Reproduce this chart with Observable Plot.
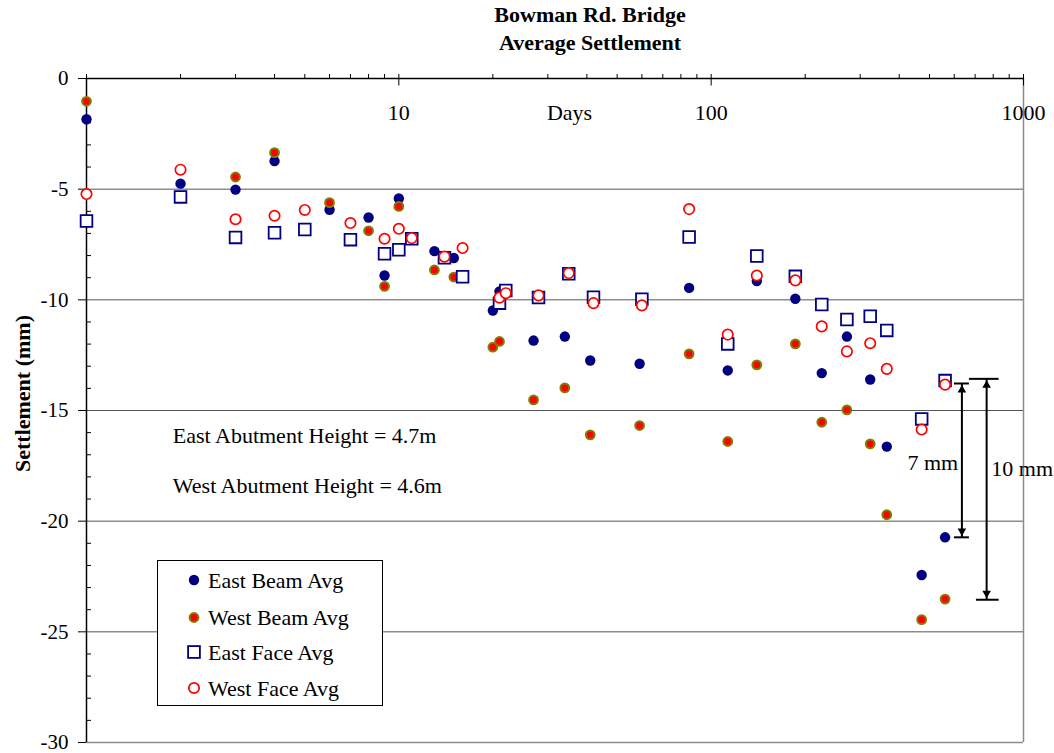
<!DOCTYPE html>
<html>
<head>
<meta charset="utf-8">
<script src="https://cdn.jsdelivr.net/npm/d3@7"></script>
<script src="https://cdn.jsdelivr.net/npm/@observablehq/plot@0.6"></script>
<style>
  body { margin: 0; background: #fff; font-family: "Liberation Serif", "Times New Roman", serif; }
  #wrap { position: relative; width: 1054px; height: 753px; overflow: hidden; background: #fff; }
  #title { position: absolute; left: 126px; top: 1px; width: 928px; text-align: center;
           font-weight: bold; font-size: 22px; line-height: 28px; color: #000; }
  #chart { position: absolute; left: 0; top: 56px; }
  #legend { position: absolute; left: 157px; top: 560px; }
</style>
</head>
<body>
<div id="wrap">
  <div id="title">Bowman Rd. Bridge<br>Average Settlement</div>
  <div id="chart"></div>
  <div id="legend"></div>
</div>
<script>
// ---- data (days, settlement in mm) ----
const eastBeamDays = [1, 2, 3, 4, 6, 8, 9, 10, 13, 15, 20, 21, 27, 34, 41, 59, 85, 113, 140, 186, 226, 272, 323, 365, 472, 561];
const eastBeamMM   = [-1.84, -4.75, -5.02, -3.73, -5.93, -6.28, -8.9, -5.42, -7.8, -8.11, -10.48, -9.62, -11.84, -11.66, -12.74, -12.89, -9.46, -13.19, -9.15, -9.95, -13.31, -11.66, -13.6, -16.63, -22.43, -20.73];

const westBeamDays = [1, 3, 4, 6, 8, 9, 10, 13, 15, 20, 21, 27, 34, 41, 59, 85, 113, 140, 186, 226, 272, 323, 365, 472, 561];
const westBeamMM   = [-1.03, -4.45, -3.35, -5.61, -6.88, -9.39, -5.78, -8.65, -8.97, -12.14, -11.88, -14.52, -13.98, -16.1, -15.68, -12.44, -16.4, -12.94, -11.99, -15.53, -14.97, -16.51, -19.71, -24.45, -23.52];

const eastFaceDays = [1, 2, 3, 4, 5, 7, 9, 10, 11, 14, 16, 21, 22, 28, 35, 42, 60, 85, 113, 140, 186, 226, 272, 323, 365, 472, 561];
const eastFaceMM   = [-6.44, -5.35, -7.18, -6.97, -6.82, -7.28, -7.92, -7.74, -7.24, -8.1, -8.96, -10.15, -9.58, -9.9, -8.82, -9.88, -9.97, -7.16, -11.99, -8.02, -8.94, -10.21, -10.89, -10.74, -11.38, -15.38, -13.65];

const westFaceDays = [1, 2, 3, 4, 5, 7, 9, 10, 11, 14, 16, 21, 22, 28, 35, 42, 60, 85, 113, 140, 186, 226, 272, 323, 365, 472, 561];
const westFaceMM   = [-5.22, -4.12, -6.36, -6.2, -5.94, -6.53, -7.24, -6.79, -7.21, -8.05, -7.66, -9.9, -9.7, -9.8, -8.79, -10.15, -10.25, -5.9, -11.57, -8.9, -9.12, -11.2, -12.33, -11.96, -13.12, -15.86, -13.83];

const seriesNames = ["East Beam Avg", "West Beam Avg", "East Face Avg", "West Face Avg"];

// ---- axis ticks / labels ----
const xMajorTicks = [1, 10, 100, 1000];
const xMinorTicks = [2,3,4,5,6,7,8,9,20,30,40,50,60,70,80,90,200,300,400,500,600,700,800,900];
const xTickLabels = [10, 100, 1000];
const yMajorTicks = [0, -5, -10, -15, -20, -25, -30];
const yGridLines  = [-5, -10, -15, -20, -25];
const yMinorTicks = d3.range(-29, 0).filter(v => v % 5 !== 0);

// ---- annotations ----
const noteTexts = [
  {text: "East Abutment Height = 4.7m", day: 1.89, mm: -16.13},
  {text: "West Abutment Height = 4.6m", day: 1.89, mm: -18.39}
];
const arrows = [
  {label: "7 mm",  day: 635, top: -13.78, bottom: -20.73, capTop: [598.6, 668.6], capBottom: [598.6, 668.6], labelDay: 512.6, labelMM: -17.39},
  {label: "10 mm", day: 762, top: -13.57, bottom: -23.55, capTop: [668.6, 832.4], capBottom: [704.1, 832.4], labelDay: 990,   labelMM: -17.64}
];

const rows = (days, mm) => days.map((d, i) => ({day: d, mm: mm[i]}));
const eastBeam = rows(eastBeamDays, eastBeamMM);
const westBeam = rows(westBeamDays, westBeamMM);
const eastFace = rows(eastFaceDays, eastFaceMM);
const westFace = rows(westFaceDays, westFaceMM);

const caps = arrows.flatMap(a => [
  {x1: a.capTop[0], x2: a.capTop[1], y: a.top},
  {x1: a.capBottom[0], x2: a.capBottom[1], y: a.bottom}
]);

const FONT = '"Liberation Serif", "Times New Roman", serif';
const NAVY = "#000080", RED = "#ff0000", OLIVE = "#808000";

const chart = Plot.plot({
  width: 1054,
  height: 697,
  marginLeft: 86,
  marginRight: 31,
  marginTop: 22,
  marginBottom: 11,
  x: {type: "log", domain: [1, 1000]},
  y: {domain: [-30, 0]},
  style: {fontFamily: FONT, fontSize: "21px", color: "#000", background: "#fff", overflow: "visible"},
  marks: [
    Plot.gridY(yGridLines, {stroke: "#555", strokeOpacity: 1, strokeWidth: 1}),
    Plot.ruleY([-30], {stroke: "#8c8c8c", strokeWidth: 1.5}),
    Plot.ruleX([1000], {stroke: "#8c8c8c", strokeWidth: 1.5}),
    Plot.ruleX([1], {stroke: "#000", strokeWidth: 1.5}),
    Plot.ruleY([0], {stroke: "#000", strokeWidth: 1.5}),
    Plot.axisX({anchor: "top", ticks: xMinorTicks, tickSize: 5, tickFormat: () => "", label: null}),
    Plot.axisX({anchor: "top", ticks: xMajorTicks, tickSize: 11.5, dy: 6.5, tickFormat: () => "", label: null}),
    Plot.text(xTickLabels, {x: d => d, y: 0, text: d => String(d), dy: 34, lineAnchor: "middle", fontSize: 22}),
    Plot.text(["Days"], {frameAnchor: "top", text: d => d, textAnchor: "middle", dx: 14.5, dy: 34, lineAnchor: "middle", fontSize: 22}),
    Plot.axisY({anchor: "left", ticks: yMajorTicks, tickSize: 8, tickPadding: 10, tickFormat: d => String(d), label: null, fontSize: 21}),
    Plot.axisY({anchor: "left", ticks: yMinorTicks, tickSize: 5, dx: 5, tickFormat: () => "", label: null}),
    Plot.text(["Settlement (mm)"], {frameAnchor: "left", text: d => d, textAnchor: "middle", lineAnchor: "middle", rotate: -90, dx: -64, dy: -17, fontWeight: "bold", fontSize: 22}),
    // annotations
    Plot.text(noteTexts, {x: "day", y: "mm", text: "text", textAnchor: "start", lineAnchor: "middle", fontSize: 22}),
    Plot.link(arrows, {x1: "day", x2: "day", y1: "top", y2: "bottom", stroke: "#000", strokeWidth: 2}),
    Plot.link(caps, {x1: "x1", x2: "x2", y1: "y", y2: "y", stroke: "#000", strokeWidth: 2}),
    Plot.dot(arrows, {x: "day", y: "top", symbol: "triangle2", r: 4.1, fill: "#000", stroke: "none", dy: 6.4}),
    Plot.dot(arrows, {x: "day", y: "bottom", symbol: "triangle2", r: 4.1, fill: "#000", stroke: "none", rotate: 180, dy: -6.4}),
    Plot.text(arrows, {x: "labelDay", y: "labelMM", text: "label", lineAnchor: "middle", fontSize: 22}),
    // data
    Plot.dot(eastBeam, {x: "day", y: "mm", r: 5.2, fill: NAVY, stroke: "none"}),
    Plot.dot(westBeam, {x: "day", y: "mm", r: 4.4, fill: RED, stroke: OLIVE, strokeWidth: 2}),
    Plot.dot(eastFace, {x: "day", y: "mm", r: 6.6, symbol: "square", fill: "#fff", stroke: NAVY, strokeWidth: 1.8}),
    Plot.dot(westFace, {x: "day", y: "mm", r: 5.2, fill: "#fff", stroke: RED, strokeWidth: 1.7})
  ]
});
document.getElementById("chart").appendChild(chart);

// ---- legend ----
const lg = d3.select("#legend").append("svg")
  .attr("width", 226).attr("height", 146)
  .style("font-family", FONT).style("font-size", "22px");
lg.append("rect").attr("x", 0.5).attr("y", 0.5).attr("width", 225).attr("height", 145)
  .attr("fill", "#fff").attr("stroke", "#000").attr("stroke-width", 1);
const rowY = [20, 57.5, 92, 128];
seriesNames.forEach((name, i) => {
  const g = lg.append("g").attr("transform", `translate(37,${rowY[i]})`);
  if (i === 0) g.append("circle").attr("r", 5.2).attr("fill", NAVY);
  if (i === 1) g.append("circle").attr("r", 4.4).attr("fill", RED).attr("stroke", OLIVE).attr("stroke-width", 2);
  if (i === 2) g.append("rect").attr("x", -5.9).attr("y", -5.9).attr("width", 11.8).attr("height", 11.8)
                 .attr("fill", "#fff").attr("stroke", NAVY).attr("stroke-width", 1.8);
  if (i === 3) g.append("circle").attr("r", 5.2).attr("fill", "#fff").attr("stroke", RED).attr("stroke-width", 1.7);
  lg.append("text").attr("x", 51).attr("y", rowY[i]).attr("dy", "0.35em").text(name);
});
</script>
</body>
</html>
